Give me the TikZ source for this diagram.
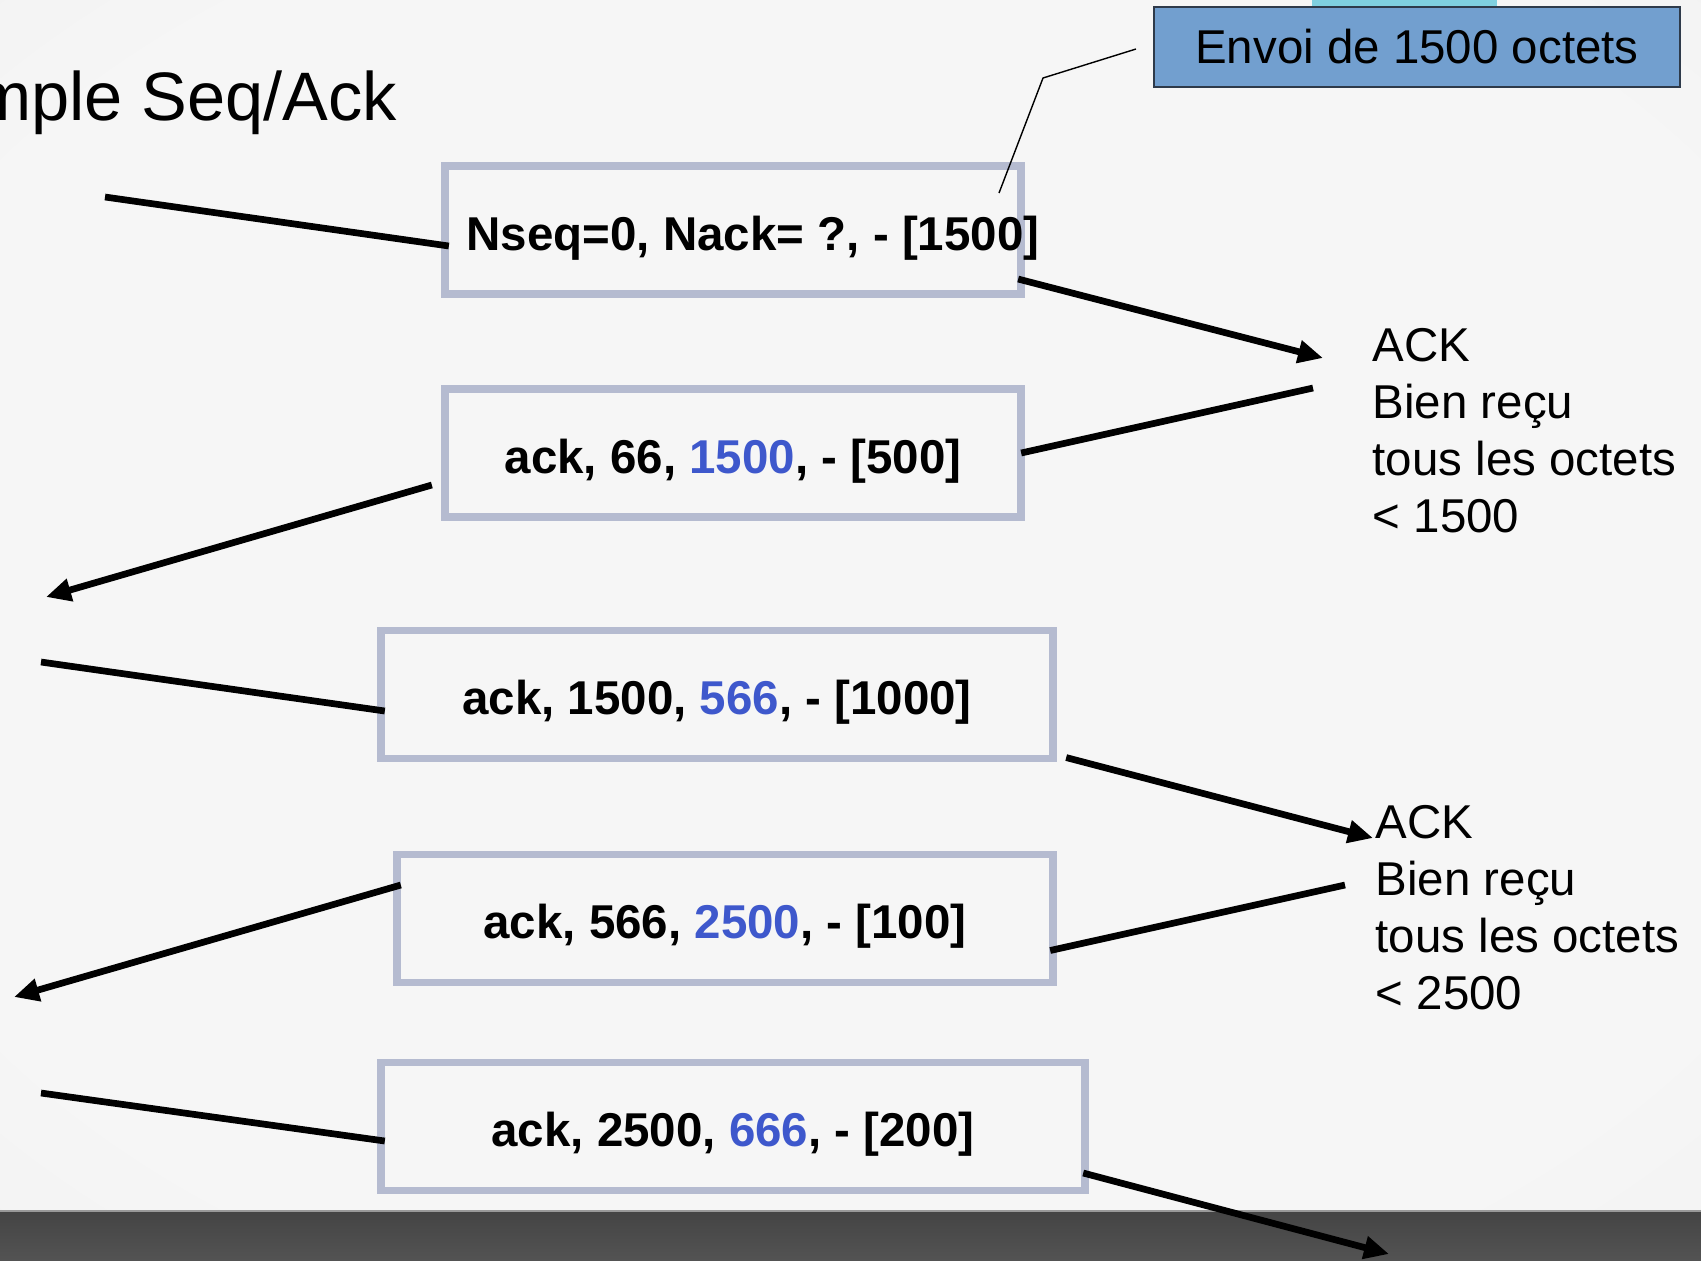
\documentclass[tikz,border=0pt]{standalone}
\usepackage{fontspec}
\setmainfont{Liberation Sans}
\usetikzlibrary{arrows.meta,calc}
\definecolor{BoxGray}{HTML}{B5BBD0}
\definecolor{NumBlue}{HTML}{3E58CC}
\definecolor{NoteBlue}{HTML}{729FCF}
\definecolor{NoteEdge}{HTML}{2E3A4A}
\definecolor{BgLight}{HTML}{F6F6F6}
\definecolor{BgDark}{HTML}{E2E2E2}
\definecolor{BandDark}{HTML}{444444}
\definecolor{BandMid}{HTML}{535353}
\definecolor{TopCyan}{HTML}{80D0E0}
\pgfdeclareradialshading{slidebg}{\pgfpoint{0bp}{0bp}}{%
  color(0bp)=(BgLight); color(30bp)=(BgLight); color(72bp)=(BgDark)}

\begin{document}
\begin{tikzpicture}[
  x=0.01cm, y=-0.01cm,
  font=\fontsize{13.5}{16.2}\selectfont,
  % segment box
  seg/.style={draw=BoxGray, line width=0.077cm, outer sep=0pt,
              minimum height=1.28cm, inner sep=0pt,
              text height=11.6pt, text depth=0pt, font=\fontsize{13.5}{16.2}\selectfont\bfseries},
  segtxt/.style={inner sep=0pt, text height=11.6pt, text depth=0pt,
                 font=\fontsize{13.5}{16.2}\selectfont\bfseries},
  % blue note
  note/.style={draw=NoteEdge, fill=NoteBlue, line width=0.4pt,
               minimum width=5.26cm, minimum height=0.8cm, inner sep=0pt},
  % ACK remarks
  ackl/.style={anchor=north west, align=left, inner sep=0pt},
  % message lines
  msg/.style={draw=black, line width=0.067cm},
  arr/.style={msg, -{Triangle[length=0.25cm, width=0.22cm]}},
]

\useasboundingbox (0,0) rectangle (1701,1260);
\clip (0,0) rectangle (1701,1260);

%% ── Slide background ─────────────────────────────────────────────────────
\shade[shading=slidebg] (0,0) rectangle (1701,1211);
\shade[top color=BandDark, bottom color=BandMid] (0,1211) rectangle (1701,1260);
\draw[gray!80, line width=0.4pt] (0,1211) -- (1701,1211);
\fill[TopCyan] (1312,0) rectangle (1497,8);

%% ── Title and note ───────────────────────────────────────────────────────
\node[anchor=base east, inner sep=0pt, font=\fontsize{19.5}{23}\selectfont]
  (title) at (398,120) {Exemple Seq/Ack};
\node[note] (envoi) at (1417,47) {Envoi de 1500 octets};

%% ── Segments ─────────────────────────────────────────────────────────────
\node[seg, minimum width=5.76cm] (b1) at (733,230) {};
\node[segtxt] (t1) at ($(b1.center)+(20,0)$) {Nseq=0, Nack= ?, - [1500]};
\node[seg, minimum width=5.76cm] (b2) at (733,453)
  {ack, 66, \textcolor{NumBlue}{1500}, - [500]};
\node[seg, minimum width=6.72cm] (b3) at (717,694.5)
  {ack, 1500, \textcolor{NumBlue}{566}, - [1000]};
\node[seg, minimum width=6.56cm] (b4) at (725,918.5)
  {ack, 566, \textcolor{NumBlue}{2500}, - [100]};
\node[seg, minimum width=7.04cm] (b5) at (733,1126.5)
  {ack, 2500, \textcolor{NumBlue}{666}, - [200]};

\node[ackl] (ack1) at (1372,328) {ACK\\Bien reçu\\tous les octets\\< 1500};
\node[ackl] (ack2) at (1375,805) {ACK\\Bien reçu\\tous les octets\\< 2500};

%% ── Free ends of the messages ────────────────────────────────────────────
\coordinate (p1) at (105,197);
\coordinate (q1) at (1323,358);
\coordinate (q2) at (1313,388);
\coordinate (p2) at (46,597);
\coordinate (p3) at (41,662);
\coordinate (q3) at (1373,838);
\coordinate (q4) at (1345,885);
\coordinate (p4) at (14,997);
\coordinate (p5) at (41,1093);
\coordinate (q5) at (1389,1254);

%% ── Messages ─────────────────────────────────────────────────────────────
\draw[msg] (p1) -- ($(b1.west)+(4,16)$);
\draw[arr] ($(b1.south east)+(-3,-15)$) -- (q1);
\draw[msg] (q2) -- (b2.east);
\draw[arr] ($(b2.west)+(-13,32)$) -- (p2);
\draw[msg] (p3) -- ($(b3.west)+(4,16.5)$);
\draw[arr] ($(b3.south east)+(13,-1)$) -- (q3);
\draw[msg] (q4) -- ($(b4.east)+(-3,32)$);
\draw[arr] ($(b4.west)+(4,-33.5)$) -- (p4);
\draw[msg] (p5) -- ($(b5.west)+(4,14.5)$);
\draw[arr] ($(b5.east)+(-2,46.5)$) -- (q5);

%% ── Callout ──────────────────────────────────────────────────────────────
\coordinate (c0) at (1136,49);
\coordinate (c1) at (1043,78);
\coordinate (c2) at (999,193);
\draw[line width=0.4pt] (c0) -- (c1) -- (c2);

\end{tikzpicture}
\end{document}
